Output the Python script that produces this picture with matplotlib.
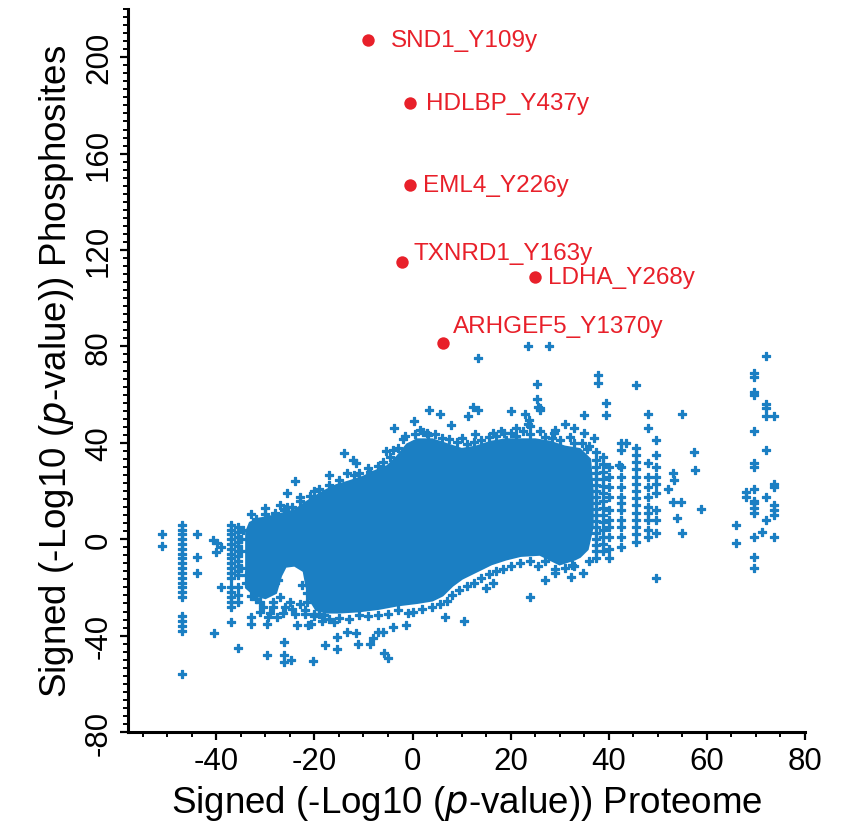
import numpy as np
import matplotlib.pyplot as plt
from matplotlib.ticker import MultipleLocator

plt.rcParams['font.family'] = ['Liberation Sans', 'DejaVu Sans']
plt.rcParams['axes.unicode_minus'] = False

BLUE = '#1b7fc3'
RED = '#e8202a'

# labelled phosphosites
site_names = ['SND1_Y109y', 'HDLBP_Y437y', 'EML4_Y226y', 'TXNRD1_Y163y', 'LDHA_Y268y', 'ARHGEF5_Y1370y']
site_x = [-9.0, -0.6, -0.6, -2.2, 25.0, 6.3]
site_y = [207, 181, 147, 115, 109, 81.5]
label_offsets = [(16, 0), (11.5, 0), (9.4, 0), (8.6, 6.5), (9.4, 0), (6.5, 12)]

# outline of the dense body of the cloud
core_x = [-33.7, -33, -31.5, -29, -27, -24, -22, -20, -18, -15.5, -13, -10, -8, -5, -3, -1, 1, 4, 7,
          10, 13, 16, 19, 22, 25, 28, 31, 34, 36, 36.5, 36.5, 35.5, 34,
          33, 30, 28, 26, 22, 19, 16, 13, 10, 8, 6, 4, 1, -3, -7, -11, -15, -17.5, -19.5, -21,
          -22, -24, -26, -27, -28, -30, -32, -33.7]
core_y = [3, 6.5, 8, 9, 10, 11.5, 14.5, 17, 19.5, 22, 23.5, 25.5, 27.5, 30, 34, 39, 41, 41, 39,
          37, 38, 40, 41, 41, 41, 40, 38, 37, 33, 20, 5, -4, -7,
          -8, -10, -8, -6, -6.5, -8, -10, -13, -16, -19, -23, -25, -26, -27, -28.5, -29.5, -30, -30, -29, -24,
          -13, -10.5, -11, -15, -22, -24, -23, -20]

# vertical stripes of sites sharing one protein value
stripe_x = [-51, -47, -44, -37, -35.5, 37.3, 38.8, 40, 42.4, 45.5, 48, 49.6, 69.6, 72, 73.7]
stripe_y = [
    [2, -3],
    [6, 4, 2, 0, -2, -4, -6, -8, -10, -12, -14, -16, -18, -20, -22, -24, -32, -34, -36, -38, -56],
    [2, -7.5, -14],
    [6, 4, 2, 0, -2, -4, -6, -8, -10, -12, -14, -16, -20, -22, -24, -26, -28, -34.5],
    [5, 3, 1, -1, -3, -5, -7, -9, -11, -13, -15, -20, -23, -26, -45],
    [36, 33, 30, 27.5, 25, 22.5, 20, 17.5, 15, 12.5, 10, 7.5, 5, 2.5, 0, -2.5, -5, -8],
    [34, 31, 28, 25, 22, 19, 16, 13, 10, 7, 4, 1, -2, -5],
    [30, 26, 21.6, 17.5, 12, 8, 5, 1, -4, -8],
    [40, 37, 30, 26, 21.6, 17.5, 15, 12, 8, 5, 1, -3.3],
    [64, 38, 35, 32, 29, 26, 23, 20, 17, 14, 11, 8, 5, 2, -1],
    [52, 46, 31.6, 25.8, 21.6, 17.5, 13.3, 10.8, 8, 3.7, 0.8],
    [41, 35, 30, 26, 23, 19, 12, 8, 2.5, -16],
    [69, 67.5, 61, 60, 45, 31.6, 30, 21, 16, 15, 13, 11, 1, -7.5, -12],
    [76, 56, 54.5, 51, 37, 17.5, 8],
    [51, 23, 21.6, 14, 12, 10, 1],
]

# scattered sites above the cloud
upper_pts = [(37.8, 68), (37.8, 65), (39.4, 56.5), (39.4, 51.6), (35, 51.6), (26, 54.5), (28.8, 44),
             (27.8, 80), (23.5, 80), (13.3, 75), (25.3, 64.5), (25.3, 58), (25.5, 55), (26, 53.6),
             (23, 52), (23.7, 49.5), (23.5, 48), (20, 53), (3.3, 53.6), (5.5, 52), (0.2, 49),
             (-3.7, 46), (7.8, 47.4), (11.4, 51), (12.4, 55), (13.3, 53.6), (12.7, 43.7), (2.2, 44.5),
             (3.1, 43.3), (16.5, 44), (18.6, 44), (19, 41), (-5.5, 36.6), (-14, 35.8), (-12.2, 33),
             (-11.6, 31.6), (-13.3, 27.5), (-8.6, 28), (-17, 26.6), (-23.9, 24), (-25.5, 19),
             (-22.9, 17.5), (-21, 15), (-30, 13), (-33, 10.4), (-27, 14), (-25.5, 13.3), (-26.3, 12),
             (21, 46), (24, 47), (29, 45.5), (33, 46), (35, 44), (37, 42), (31, 48),
             (52, 21), (53, 27.5), (53.3, 24.5), (53, 15.4), (54.7, 15.4), (54, 9), (55, 2.5), (55, 52),
             (57.3, 36), (57.5, 28.7), (58.8, 12.5), (42, 30.8), (43.5, 40), (66, 6), (66, -1.7),
             (68, 19.5), (68, 17.5), (71.2, 3)]

# scattered sites below the cloud
lower_pts = [(-40.6, -0.4), (-39.8, -1.7), (-39, -3.3), (-40, -5.4), (-39, -20), (-40.4, -39),
             (-33, -32.4), (-33, -35), (-32, -23), (-32, -25), (-29.6, -35), (-29.4, -32.4),
             (-27.6, -32.4), (-29.6, -48), (-26.3, -42.5), (-26.3, -48), (-26.3, -51), (-24.7, -50),
             (-20.2, -50.4), (-17.8, -43.7), (-15.3, -45.4), (-15.3, -40.4), (-13.3, -38.7),
             (-23.5, -35.8), (-21.4, -35.4), (-20.6, -35), (-11.6, -39), (-11.2, -43.3), (-8.6, -43.3),
             (-8, -41.2), (-7.1, -38.7), (-6.1, -38.7), (-5.9, -47.4), (-4.9, -49.5), (-3.9, -36.6),
             (-1.4, -35.8), (6.7, -32.4), (10.4, -34), (14.9, -20.4), (16.5, -18.3), (23.9, -24),
             (26.9, -17), (32.2, -15.8), (34.7, -14), (29, -12.5), (32.6, -10.8)]

# ragged edge of the dense body
edge_pts = [(-30, 10.5), (-26, 12.5), (-23, 16), (-19, 21), (-17, 22.5), (-12, 26.5), (-9, 29.5),
            (-6, 32), (-4, 37), (-2, 41.5), (0.5, 43.5), (3, 44), (6, 42), (9, 40.5), (11, 39.5),
            (14, 41), (17, 43), (21, 43), (24, 43.5), (27, 42.5), (30, 41), (33, 40), (36, 38.5),
            (36, -9), (31, -12), (27, -9), (24, -9), (20, -11), (17, -13), (14, -16), (11, -19.5),
            (8, -23), (5.5, -27), (2, -29), (-1, -30.5), (-5, -31), (-9, -32), (-13, -33), (-17, -33),
            (-19, -31), (-21.5, -26), (-23, -27), (-25, -26), (-27, -24), (-28.5, -26), (-31, -26),
            (-33, -23.5), (-26, -28), (-28.5, -28), (-24.5, -29), (-22, -29.5), (-30.5, -28), (-31, -30),
            (-29, -30.5), (-24, -31), (-22, -31), (-18.5, -34), (-16, -34.5), (-20, -31), (-26.5, -30.5),
            (-21.5, -22.5), (-22.5, -19), (-28.5, -19), (-27.5, -17),
            (-35, 0), (-35, -5), (-35, -12),
            (-32, 8.5), (-28, 11), (-24.5, 13.5), (-21, 18), (-20, 20), (-15, 24.5), (-11, 27.5),
            (-7, 30.5), (-4.5, 34), (-3, 38), (-1.5, 43), (1.5, 45.5), (4.5, 43.5), (7.5, 41.5),
            (10, 42), (12.5, 40.5), (15.5, 42.5), (18, 45), (20, 44), (22.5, 45), (26, 45), (28.5, 42),
            (32, 42.5), (34.5, 40), (35.5, 37.5),
            (33, -11), (29, -14), (25.5, -11), (22, -10), (18.5, -12.5), (15.5, -14.5), (12.5, -18),
            (9.5, -21), (7, -25.5), (4, -28), (0, -30), (-3, -29.5), (-7, -31.5), (-11, -31.5),
            (-15, -32.5), (-18, -31.5), (-20, -32), (-34.5, 4), (-34, -15), (-34, -18)]

fig = plt.figure(figsize=(8.5, 8.37), dpi=100)
ax = fig.add_axes([128 / 850, 1 - 733 / 837, 677 / 850, 723 / 837])

ax.fill(core_x, core_y, color=BLUE, lw=3, ec=BLUE, zorder=2)

bx, by = [], []
for sx, ys in zip(stripe_x, stripe_y):
    bx += [sx] * len(ys)
    by += ys
for px, py in upper_pts + lower_pts + edge_pts:
    bx.append(px)
    by.append(py)
ax.scatter(bx, by, marker='P', s=32, color=BLUE, ec=BLUE, lw=0.9, zorder=3)

ax.scatter(site_x, site_y, s=80, color=RED, lw=0, zorder=4)
for name, sx, sy, off in zip(site_names, site_x, site_y, label_offsets):
    ax.annotate(name, (sx, sy), xytext=off, textcoords='offset points',
                color=RED, fontsize=17.5, va='center', ha='left', zorder=5)

ax.set_xlim(-58, 80)
ax.set_ylim(-80, 220)
ax.xaxis.set_minor_locator(MultipleLocator(5))
ax.set_xticks([-40, -20, 0, 20, 40, 60, 80])
ax.yaxis.set_minor_locator(MultipleLocator(40 / 12))
ax.set_yticks([-80, -40, 0, 40, 80, 120, 160, 200])

for side in ['top', 'right']:
    ax.spines[side].set_visible(False)
for side in ['left', 'bottom']:
    ax.spines[side].set_linewidth(2.2)

ax.tick_params(which='major', direction='out', length=6, width=1.6, labelsize=22.5, pad=4)
ax.tick_params(which='minor', direction='out', length=3.5, width=1.4)
ax.tick_params(axis='y', labelrotation=90)
for lab in ax.get_yticklabels():
    lab.set_va('center')

ax.set_xlabel('Signed (-Log10 ($\\it{p}$-value)) Proteome', fontsize=26.5, labelpad=5)
ax.set_ylabel('Signed (-Log10 ($\\it{p}$-value)) Phosphosites', fontsize=26.5, labelpad=6)

fig.savefig('out.png', dpi=100)
